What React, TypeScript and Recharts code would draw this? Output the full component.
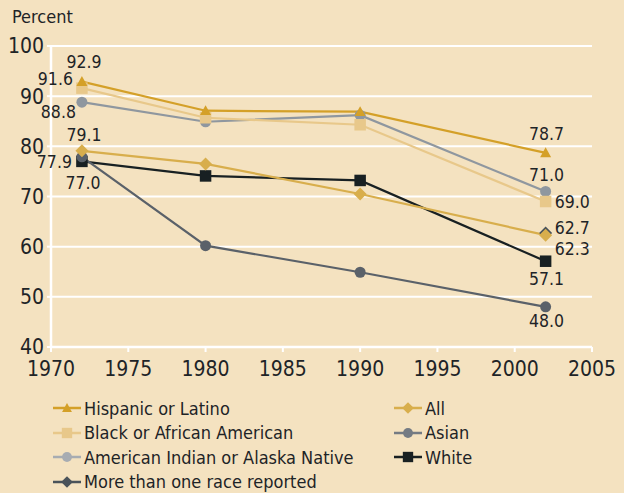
import React from 'react';
import { LineChart, Line, XAxis, YAxis, CartesianGrid } from 'recharts';

const years = [1972, 1980, 1990, 2002];
const hispanic = [92.9, 87.1, 86.9, 78.7];
const black = [91.6, 85.7, 84.3, 69.0];
const amIndian = [88.8, 84.9, 86.2, 71.0];
const moreThanOne = [null, null, null, 62.7];
const all = [79.1, 76.5, 70.5, 62.3];
const asian = [77.9, 60.2, 54.9, 48.0];
const white = [77.0, 74.1, 73.2, 57.1];
const xTicks = [1970, 1975, 1980, 1985, 1990, 1995, 2000, 2005];
const yTicks = [40, 50, 60, 70, 80, 90, 100];

const FONT = "'DejaVu Sans', sans-serif";
const TEXT = '#1e2427';
const BG = '#f4e2c0';
const COND: React.CSSProperties = { fontFamily: FONT, fontStretch: 'condensed' };

const data = years.map((year, i) => ({
  year,
  hispanic: hispanic[i],
  black: black[i],
  amIndian: amIndian[i],
  moreThanOne: moreThanOne[i],
  all: all[i],
  asian: asian[i],
  white: white[i],
}));

type Shape = 'triangle' | 'square' | 'circle' | 'diamond';

const drawShape = (shape: Shape, cx: number, cy: number, size: number, color: string, key?: any) => {
  const h = size / 2;
  if (shape === 'circle') return <circle key={key} cx={cx} cy={cy} r={h} fill={color} />;
  if (shape === 'square') return <rect key={key} x={cx - h} y={cy - h} width={size} height={size} fill={color} />;
  if (shape === 'triangle')
    return <polygon key={key} points={`${cx},${cy - h} ${cx + h},${cy + h * 0.8} ${cx - h},${cy + h * 0.8}`} fill={color} />;
  return <polygon key={key} points={`${cx},${cy - h} ${cx + h},${cy} ${cx},${cy + h} ${cx - h},${cy}`} fill={color} />;
};

// label placement per series: index -> [dx, dy, anchor]
type Place = Record<number, [number, number, string]>;

interface SeriesDef {
  key: string;
  name: string;
  color: string;
  shape: Shape;
  size: number;
  labels: Place;
}

// drawing order: first in list is drawn at the back
const series: SeriesDef[] = [
  { key: 'white', name: 'White', color: '#182022', shape: 'square', size: 11.5, labels: { 0: [1, 22, 'middle'], 3: [1, 17.5, 'middle'] } },
  { key: 'asian', name: 'Asian', color: '#5a6169', shape: 'circle', size: 11, labels: { 0: [-10, 5, 'end'], 3: [1, 14, 'middle'] } },
  { key: 'moreThanOne', name: 'More than one race reported', color: '#4a535a', shape: 'diamond', size: 13, labels: { 3: [9, -5.5, 'start'] } },
  { key: 'all', name: 'All', color: '#d8ae4c', shape: 'diamond', size: 13, labels: { 0: [2, -15.5, 'middle'], 3: [9, 13.5, 'start'] } },
  { key: 'amIndian', name: 'American Indian or Alaska Native', color: '#8f979f', shape: 'circle', size: 11, labels: { 0: [-6, 10, 'end'], 3: [1, -16, 'middle'] } },
  { key: 'black', name: 'Black or African American', color: '#e8c88a', shape: 'square', size: 11.5, labels: { 0: [-9, -9.5, 'end'], 3: [9, 0, 'start'] } },
  { key: 'hispanic', name: 'Hispanic or Latino', color: '#d4a028', shape: 'triangle', size: 11, labels: { 0: [2, -19.5, 'middle'], 3: [1, -18.5, 'middle'] } },
];

const legendCols = [
  ['hispanic', 'black', 'amIndian', 'moreThanOne'],
  ['all', 'asian', 'white'],
];

const legendColors: Record<string, string> = {
  amIndian: '#a7acb2',
  asian: '#747b83',
};

const LegendBox = () => (
  <div style={{ position: 'absolute', left: 52, top: 396, display: 'flex', ...COND, fontSize: 18, color: TEXT }}>
    {legendCols.map((col, ci) => (
      <div key={ci} style={{ width: ci === 0 ? 341 : 200 }}>
        {col.map((k) => {
          const s = series.find((d) => d.key === k)!;
          const c = legendColors[k] || s.color;
          return (
            <div key={k} style={{ display: 'flex', alignItems: 'center', height: 24.5 }}>
              <svg width={30} height={20} style={{ marginRight: 2 }}>
                <line x1={1} x2={29} y1={10} y2={10} stroke={c} strokeWidth={2.5} />
                {drawShape(s.shape, 15, 10, s.size * 0.9, c)}
              </svg>
              <span>{s.name}</span>
            </div>
          );
        })}
      </div>
    ))}
  </div>
);

const makeDot = (s: SeriesDef) => (props: any) => {
  const { cx, cy, index, value } = props;
  if (cy == null || value == null) return <g key={`${s.key}-d-${index}`} />;
  return drawShape(s.shape, cx, cy, s.size, s.color, `${s.key}-d-${index}`);
};

const makeLabel = (s: SeriesDef) => (props: any) => {
  const { x, y, index, value } = props;
  const p = s.labels[index];
  if (!p || value == null) return null;
  return (
    <text
      key={`${s.key}-l-${index}`}
      x={x + p[0]}
      y={y + p[1]}
      textAnchor={p[2] as any}
      dominantBaseline="central"
      fill={TEXT}
      fontSize={17.5}
      style={COND}
    >
      {Number(value).toFixed(1)}
    </text>
  );
};

const tickStyle = { fill: TEXT, fontSize: 21, style: COND };

export default function App() {
  return (
    <div style={{ position: 'absolute', left: 0, top: 0, width: 624, height: 493, background: BG, overflow: 'hidden' }}>
      <div style={{ position: 'absolute', left: 12, top: 6, ...COND, fontSize: 18, color: TEXT }}>Percent</div>
      <LineChart width={624} height={390} data={data} margin={{ top: 46, right: 32, left: 0, bottom: 8 }}>
        <CartesianGrid horizontal vertical={false} stroke="#ffffff" strokeWidth={2} />
        <XAxis
          dataKey="year"
          type="number"
          domain={[1970, 2005]}
          ticks={xTicks}
          height={35}
          axisLine={{ stroke: '#ffffff', strokeWidth: 2.5 }}
          tickLine={{ stroke: '#ffffff', strokeWidth: 2 }}
          tickSize={5}
          tickMargin={9}
          tick={tickStyle}
          interval={0}
        />
        <YAxis
          type="number"
          domain={[40, 100]}
          ticks={yTicks}
          width={51}
          axisLine={{ stroke: '#ffffff', strokeWidth: 2.5 }}
          tickLine={{ stroke: '#ffffff', strokeWidth: 2 }}
          tickSize={4}
          tickMargin={3}
          tick={tickStyle}
          interval={0}
        />
        {series.map((s) => (
          <Line
            key={s.key}
            dataKey={s.key}
            name={s.name}
            stroke={s.color}
            strokeWidth={2.2}
            type="linear"
            dot={makeDot(s)}
            activeDot={false}
            label={makeLabel(s)}
            connectNulls={false}
            isAnimationActive={false}
          />
        ))}
      </LineChart>
      <LegendBox />
    </div>
  );
}
